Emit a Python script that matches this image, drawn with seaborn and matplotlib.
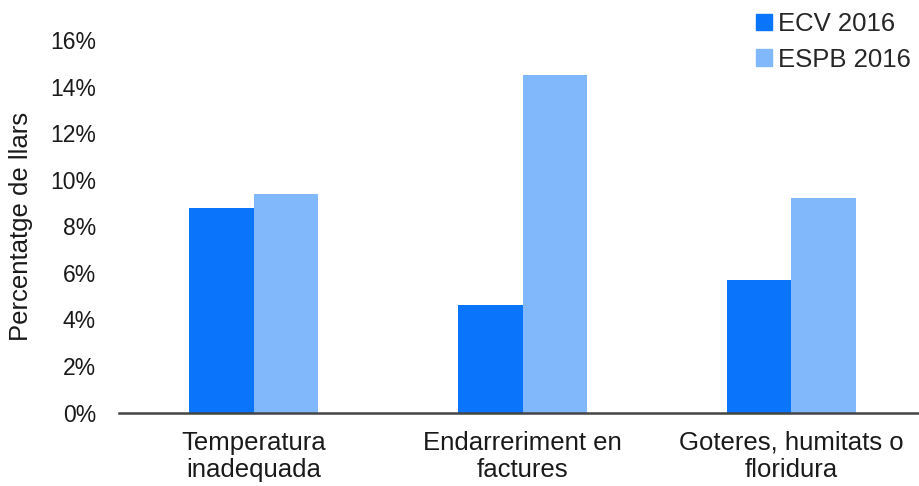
import seaborn as sns
import pandas as pd
import matplotlib.pyplot as plt
from matplotlib.ticker import FuncFormatter

# Data
categories = ['Temperatura\ninadequada', 'Endarreriment en\nfactures', 'Goteres, humitats o\nfloridura']
ecv_2016 = [8.8, 4.6, 5.7]
espb_2016 = [9.4, 14.5, 9.2]
series = ['ECV 2016', 'ESPB 2016']

df = pd.DataFrame({
    'Categoria': categories * 2,
    'Enquesta': [series[0]] * 3 + [series[1]] * 3,
    'Valor': ecv_2016 + espb_2016,
})

sns.set_theme(style="white")
plt.rcParams['font.family'] = ['Liberation Sans', 'DejaVu Sans']

fig = plt.figure(figsize=(9.19, 4.86), dpi=100)
ax = fig.add_axes([119 / 919, 73.5 / 486, 807 / 919, 372.5 / 486])

palette = {'ECV 2016': '#0a74fb', 'ESPB 2016': '#80b8fb'}
sns.barplot(data=df, x='Categoria', y='Valor', hue='Enquesta', palette=palette,
            width=0.476, gap=0, saturation=1, linewidth=0, ax=ax, legend=False)

ax.set_ylim(0, 16)
ax.set_yticks(range(0, 17, 2))
ax.yaxis.set_major_formatter(FuncFormatter(lambda v, p: f'{int(v)}%'))
ax.tick_params(axis='y', labelsize=16.5, colors='#1a1a1a', length=0, pad=16.5)
ax.tick_params(axis='x', labelsize=18.5, colors='#1a1a1a', length=0, pad=13)
for lbl in ax.get_xticklabels():
    lbl.set_linespacing(1.2)

sns.despine(ax=ax, left=True)
ax.spines['bottom'].set_color('#444444')
ax.spines['bottom'].set_linewidth(1.8)

ax.set_xlabel('')
ax.set_ylabel('Percentatge de llars', fontsize=18.5, color='#1a1a1a', labelpad=12)

# Legend
handles = [plt.Rectangle((0, 0), 1, 1, color=palette[s]) for s in series]
fig.legend(handles, series, loc='upper left', bbox_to_anchor=(751 / 919, 1 - 7 / 486),
           frameon=False, fontsize=18.5, handlelength=0.6, handleheight=0.6,
           handletextpad=0.25, labelspacing=0.45, borderaxespad=0, borderpad=0.2)

fig.savefig('out.png', dpi=100)
